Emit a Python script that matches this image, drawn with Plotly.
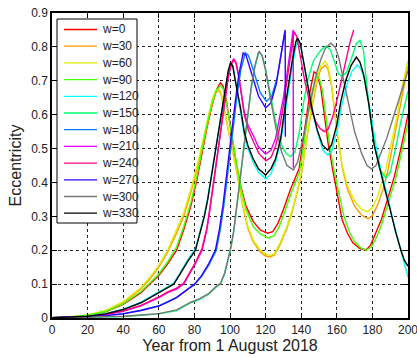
import plotly.graph_objects as go

# ---------------- data ----------------
labels = ["w=0", "w=30", "w=60", "w=90", "w=120", "w=150",
          "w=180", "w=210", "w=240", "w=270", "w=300", "w=330"]
colors = ["#FF0000", "#FF9900", "#DDEE00", "#44FF00", "#00FFFF", "#00FF70",
          "#0080FF", "#DD00FF", "#FF0080", "#3300FF", "#777777", "#000000"]

yr_w0 = [0, 10, 20, 30, 40, 50, 55, 60, 65, 70, 74, 78, 81.5, 84, 87, 90, 92.5, 94.6, 96, 98, 100, 103, 106, 109, 113, 117, 121, 124, 127, 130, 134, 138.8, 141, 143, 145, 147.2, 149, 151, 153, 155, 157.6, 160, 163, 166, 169, 173, 176.3, 179, 182, 185, 188.5, 192.3, 196, 200]
e_w0 = [0.001, 0.002, 0.007, 0.018, 0.04, 0.075, 0.1, 0.125, 0.16, 0.2, 0.26, 0.33, 0.41, 0.48, 0.56, 0.63, 0.675, 0.694, 0.685, 0.64, 0.57, 0.47, 0.39, 0.33, 0.285, 0.26, 0.25, 0.255, 0.28, 0.32, 0.38, 0.44, 0.52, 0.6, 0.67, 0.726, 0.72, 0.68, 0.6, 0.52, 0.44, 0.37, 0.29, 0.25, 0.222, 0.205, 0.2, 0.215, 0.25, 0.29, 0.35, 0.417, 0.5, 0.6]

yr_w30 = [0, 10, 20, 30, 40, 50, 55, 60, 65, 70, 74, 78, 82, 85, 88, 90, 92, 93.7, 95, 97, 100, 102, 104, 107, 110, 113, 117, 120, 122.5, 125, 128, 132, 135, 138, 140.5, 143, 146, 149, 151, 153.5, 155, 157, 159, 161, 163, 166, 170, 174, 177.5, 180, 183, 186, 188.5, 191, 194.5, 197.5, 200]
e_w30 = [0.001, 0.003, 0.008, 0.02, 0.045, 0.086, 0.115, 0.15, 0.195, 0.25, 0.3, 0.37, 0.45, 0.52, 0.59, 0.635, 0.665, 0.672, 0.66, 0.61, 0.53, 0.475, 0.425, 0.335, 0.265, 0.225, 0.195, 0.183, 0.18, 0.186, 0.215, 0.265, 0.315, 0.375, 0.435, 0.525, 0.62, 0.7, 0.735, 0.746, 0.735, 0.685, 0.595, 0.515, 0.445, 0.38, 0.33, 0.303, 0.293, 0.302, 0.335, 0.38, 0.43, 0.5, 0.59, 0.67, 0.745]

yr_w60 = [0, 10, 20, 30, 40, 50, 55, 60, 65, 70, 74, 78, 82, 85, 88, 90, 92, 93.5, 95, 97, 100, 102, 104, 107, 110, 113, 117, 120, 122.5, 125, 128, 132, 135, 138, 140.5, 143, 146, 149, 151, 153.4, 155, 157, 159, 161, 163, 166, 170, 174, 177.3, 180, 183, 185.5, 187.6, 190.4, 194, 197, 200]
e_w60 = [0.001, 0.003, 0.009, 0.022, 0.048, 0.09, 0.12, 0.155, 0.2, 0.26, 0.31, 0.38, 0.46, 0.53, 0.6, 0.645, 0.672, 0.678, 0.665, 0.61, 0.53, 0.48, 0.43, 0.34, 0.27, 0.23, 0.2, 0.188, 0.185, 0.19, 0.22, 0.27, 0.32, 0.38, 0.44, 0.53, 0.63, 0.71, 0.745, 0.758, 0.745, 0.69, 0.6, 0.52, 0.45, 0.39, 0.345, 0.32, 0.314, 0.325, 0.36, 0.4, 0.44, 0.51, 0.6, 0.69, 0.76]

yr_w90 = [0, 10, 20, 30, 40, 50, 55, 60, 65, 70, 74, 78, 81.5, 84, 87, 90, 92.5, 94.8, 96.3, 98, 100, 103, 106, 109, 113, 117, 121.5, 124.5, 127.5, 130.5, 134.5, 139, 141.5, 143.5, 145.5, 148.5, 150.3, 152, 154, 156, 158.3, 161, 164, 167, 170, 173.5, 176.5, 179.5, 182.5, 185.5, 189, 193, 196.5, 200]
e_w90 = [0.001, 0.002, 0.008, 0.019, 0.042, 0.078, 0.103, 0.13, 0.166, 0.21, 0.27, 0.34, 0.42, 0.49, 0.57, 0.635, 0.673, 0.686, 0.675, 0.635, 0.57, 0.47, 0.385, 0.32, 0.27, 0.248, 0.236, 0.242, 0.268, 0.31, 0.37, 0.43, 0.51, 0.59, 0.655, 0.715, 0.705, 0.67, 0.59, 0.51, 0.44, 0.37, 0.3, 0.255, 0.225, 0.207, 0.2, 0.21, 0.24, 0.28, 0.34, 0.41, 0.49, 0.575]

yr_w120 = [0, 10, 20, 30, 40, 50, 60, 65, 68.4, 72, 76, 80.6, 83, 85.6, 87.5, 89, 91, 93, 95.5, 97.5, 99, 100.5, 101.8, 103.2, 106, 108, 110, 113, 116, 120, 123, 125.6, 128.5, 130.5, 132.7, 135.2, 137.2, 138.3, 139.8, 141.8, 143.8, 146.3, 149.3, 152.3, 155, 157.3, 160.3, 162.7, 165.5, 168.5, 171.6, 173.5, 176, 179, 182, 185, 188, 191, 194, 197, 200]
e_w120 = [0.001, 0.002, 0.005, 0.013, 0.026, 0.047, 0.078, 0.093, 0.103, 0.133, 0.17, 0.205, 0.255, 0.305, 0.355, 0.405, 0.465, 0.535, 0.615, 0.68, 0.725, 0.745, 0.74, 0.695, 0.61, 0.54, 0.5, 0.46, 0.43, 0.41, 0.425, 0.46, 0.52, 0.59, 0.67, 0.75, 0.805, 0.815, 0.8, 0.74, 0.68, 0.61, 0.545, 0.495, 0.481, 0.495, 0.555, 0.625, 0.685, 0.728, 0.747, 0.735, 0.7, 0.6, 0.51, 0.43, 0.37, 0.3, 0.24, 0.18, 0.12]

yr_w150 = [0, 10, 20, 30, 40, 50, 60, 70, 78, 83, 88, 92, 94.6, 97, 100.3, 102, 104, 106, 108, 110, 112, 114, 116.2, 118, 120, 123, 126, 129, 131.5, 134, 136.5, 139, 141.6, 144, 147, 151, 154, 156.5, 159, 161, 163, 165.5, 168.5, 171, 173, 175, 177, 179, 181.5, 184, 187.6, 190, 193, 196, 200]
e_w150 = [0.0, 0.001, 0.002, 0.003, 0.004, 0.008, 0.012, 0.022, 0.045, 0.055, 0.07, 0.09, 0.1, 0.13, 0.2, 0.25, 0.33, 0.42, 0.51, 0.6, 0.68, 0.74, 0.785, 0.775, 0.735, 0.65, 0.57, 0.51, 0.485, 0.476, 0.49, 0.55, 0.644, 0.71, 0.76, 0.79, 0.803, 0.79, 0.75, 0.72, 0.713, 0.725, 0.77, 0.81, 0.819, 0.79, 0.68, 0.585, 0.5, 0.44, 0.413, 0.43, 0.5, 0.58, 0.67]

yr_w180 = [0, 10, 20, 30, 40, 50, 60, 65, 70, 75, 80, 84, 88, 92.3, 94.5, 96.5, 98, 99.8, 101.8, 103.8, 106, 108.6, 110.3, 112.3, 114.5, 117, 120.5, 123.5, 126.5, 129, 130.8]
e_w180 = [0.001, 0.001, 0.003, 0.007, 0.013, 0.023, 0.036, 0.048, 0.061, 0.08, 0.098, 0.122, 0.155, 0.2, 0.26, 0.33, 0.4, 0.47, 0.56, 0.65, 0.73, 0.783, 0.775, 0.745, 0.705, 0.665, 0.639, 0.655, 0.71, 0.79, 0.845]

yr_w210 = [0, 10, 20, 30, 40, 50, 60, 65, 70, 74, 78, 81, 84.3, 87, 89, 90.9, 93, 95, 97, 99, 100.7, 102, 103.3, 105, 107.8, 110, 113.4, 116, 120, 123, 125.6, 128, 130, 132, 134, 135.5, 135.6]
e_w210 = [0.001, 0.002, 0.004, 0.01, 0.02, 0.036, 0.06, 0.075, 0.085, 0.1, 0.135, 0.165, 0.2, 0.26, 0.33, 0.4, 0.48, 0.56, 0.64, 0.71, 0.75, 0.765, 0.755, 0.71, 0.614, 0.57, 0.535, 0.505, 0.484, 0.495, 0.53, 0.59, 0.65, 0.72, 0.8, 0.85, 0.443]

yr_w240 = [0, 10, 20, 30, 40, 50, 60, 65, 70, 74, 78, 81, 84.3, 87, 89, 90.9, 93, 95, 97, 99, 100.8, 102.2, 103.5, 105.2, 108, 110.3, 113.6, 116.3, 120.2, 123.2, 125.8, 128.2, 130.2, 132.2, 134.2, 136, 137.5, 139.5, 142, 145, 148, 150.5, 152.9, 155, 157.5, 160, 162.5, 165, 167.5, 169.5]
e_w240 = [0.001, 0.002, 0.004, 0.01, 0.021, 0.037, 0.062, 0.077, 0.088, 0.103, 0.138, 0.168, 0.205, 0.265, 0.335, 0.405, 0.485, 0.565, 0.645, 0.712, 0.75, 0.762, 0.75, 0.705, 0.6, 0.555, 0.515, 0.485, 0.464, 0.475, 0.51, 0.57, 0.635, 0.71, 0.79, 0.845, 0.83, 0.775, 0.7, 0.63, 0.58, 0.56, 0.55, 0.556, 0.59, 0.64, 0.7, 0.765, 0.815, 0.85]

yr_w270 = [0, 10, 20, 30, 40, 50, 60, 65, 70, 75, 80, 84, 88, 91.8, 94, 96, 97.5, 99, 101, 103, 105, 107.4, 109, 111, 113, 116, 120, 123, 126, 128.5, 131, 131.1]
e_w270 = [0.001, 0.001, 0.003, 0.007, 0.012, 0.022, 0.035, 0.047, 0.06, 0.08, 0.1, 0.125, 0.16, 0.2, 0.26, 0.33, 0.4, 0.46, 0.55, 0.64, 0.72, 0.782, 0.775, 0.74, 0.7, 0.655, 0.62, 0.635, 0.69, 0.77, 0.85, 0.535]

yr_w300 = [0, 10, 20, 30, 40, 50, 60, 70, 78, 83, 88, 92, 94.6, 97, 100.3, 102, 104, 106, 108, 110, 112, 114, 116.2, 118, 120, 123, 126, 129, 132, 135.6, 138, 141, 143.5, 146, 148.5, 151, 153.5, 156.6, 159, 161, 163, 166, 170, 174, 177, 179.5, 182, 185, 188, 191, 195, 200]
e_w300 = [0.0, 0.001, 0.002, 0.003, 0.005, 0.009, 0.013, 0.024, 0.047, 0.057, 0.072, 0.092, 0.102, 0.133, 0.205, 0.255, 0.335, 0.425, 0.515, 0.605, 0.685, 0.745, 0.787, 0.775, 0.73, 0.64, 0.555, 0.49, 0.45, 0.437, 0.46, 0.53, 0.594, 0.66, 0.72, 0.762, 0.795, 0.811, 0.8, 0.77, 0.72, 0.64, 0.55, 0.485, 0.45, 0.44, 0.45, 0.49, 0.53, 0.58, 0.65, 0.73]

yr_w330 = [0, 10, 20, 30, 40, 50, 60, 65, 68.4, 72, 76, 80.6, 83, 85.6, 87.5, 89, 91, 93, 95.5, 97.5, 99, 100.3, 101.5, 103, 105.9, 108, 110, 113, 116, 120, 123, 125.6, 128.5, 130.3, 132.5, 135, 137, 138, 139.5, 141.5, 143.5, 146, 149, 152, 154.8, 157, 160, 162.3, 165, 168, 171, 173, 175, 178, 181, 184, 187, 190, 193, 196, 198, 200]
e_w330 = [0.001, 0.002, 0.005, 0.012, 0.025, 0.045, 0.075, 0.09, 0.1, 0.13, 0.165, 0.2, 0.25, 0.3, 0.35, 0.4, 0.46, 0.53, 0.61, 0.68, 0.73, 0.753, 0.745, 0.7, 0.62, 0.55, 0.51, 0.47, 0.44, 0.422, 0.44, 0.47, 0.53, 0.6, 0.68, 0.76, 0.815, 0.826, 0.81, 0.75, 0.69, 0.62, 0.555, 0.51, 0.496, 0.51, 0.57, 0.64, 0.7, 0.745, 0.77, 0.755, 0.72, 0.63, 0.51, 0.44, 0.38, 0.32, 0.255, 0.2, 0.17, 0.153]

years = [yr_w0, yr_w30, yr_w60, yr_w90, yr_w120, yr_w150,
         yr_w180, yr_w210, yr_w240, yr_w270, yr_w300, yr_w330]
eccs = [e_w0, e_w30, e_w60, e_w90, e_w120, e_w150,
        e_w180, e_w210, e_w240, e_w270, e_w300, e_w330]

x_ticks = list(range(0, 201, 20))
y_ticks = [0, 0.1, 0.2, 0.3, 0.4, 0.5, 0.6, 0.7, 0.8, 0.9]
y_tick_text = ["0", "0.1", "0.2", "0.3", "0.4", "0.5", "0.6", "0.7", "0.8", "0.9"]

# ---------------- figure ----------------
W, H = 417, 358
ML, MR, MT, MB = 52, 9, 13, 40
PW, PH = W - ML - MR, H - MT - MB

fig = go.Figure()
for lab, col, xs, ys in zip(labels, colors, years, eccs):
    fig.add_trace(go.Scatter(x=xs, y=ys, mode="lines", name=lab,
                             line=dict(color=col, width=1.4),
                             showlegend=False))

# legend drawn MATLAB-style (compact rows)
def px_x(p):
    return (p - ML) / PW

def px_y(p):
    return 1 - (p - MT) / PH

shapes = [dict(type="rect", xref="paper", yref="paper",
               x0=px_x(57), x1=px_x(137), y0=px_y(223), y1=px_y(19),
               line=dict(color="black", width=1), fillcolor="white", layer="above")]
annotations = []
row0, step = 29.5, 16.7
for i, (lab, col) in enumerate(zip(labels, colors)):
    yy = px_y(row0 + i * step)
    shapes.append(dict(type="line", xref="paper", yref="paper",
                       x0=px_x(64), x1=px_x(97), y0=yy, y1=yy,
                       line=dict(color=col, width=1.3), layer="above"))
    annotations.append(dict(xref="paper", yref="paper", x=px_x(100), y=yy,
                            text=lab, showarrow=False, xanchor="left",
                            yanchor="middle",
                            font=dict(size=12, color="#222",
                                      family="Liberation Sans, Arial, sans-serif")))

axis_common = dict(showline=True, linecolor="black", linewidth=1.5,
                   mirror="ticks", ticks="inside", ticklen=5, tickcolor="black",
                   showgrid=True, gridcolor="rgba(0,0,0,0.85)", gridwidth=1,
                   griddash="3px,3px", zeroline=False,
                   tickfont=dict(size=12, color="#222",
                                 family="Liberation Sans, Arial, sans-serif"))

fig.update_layout(
    width=W, height=H,
    margin=dict(l=ML, r=MR, t=MT, b=MB, autoexpand=False),
    paper_bgcolor="white", plot_bgcolor="white",
    font=dict(family="Liberation Sans, Arial, sans-serif", color="#222"),
    xaxis=dict(range=[0, 200], tickvals=x_ticks, ticklabeloverflow="allow",
               title=dict(text="Year from 1 August 2018", standoff=4,
                          font=dict(size=16, color="#222")),
               **axis_common),
    yaxis=dict(range=[0, 0.9], tickvals=y_ticks, ticktext=y_tick_text,
               title=dict(text="Eccentricity", standoff=6,
                          font=dict(size=16, color="#222")),
               **axis_common),
    shapes=shapes, annotations=annotations, showlegend=False,
)

fig.write_html("out.html")
